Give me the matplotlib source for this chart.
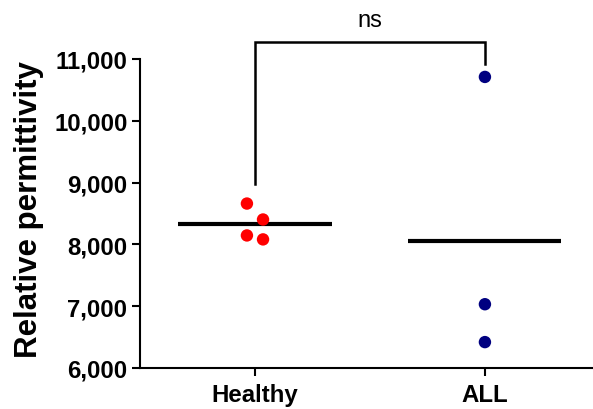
#!/usr/bin/env python3
"""Scatter of relative permittivity per group with mean lines and a ns bracket."""

import matplotlib

matplotlib.use("Agg")

import matplotlib.pyplot as plt
import numpy as np
from matplotlib.ticker import FuncFormatter

GROUPS = ["Healthy", "ALL"]
HEALTHY = [8661, 8403, 8145, 8081]
ALL_VALUES = [10710, 7032, 6419]
HEALTHY_OFFSETS = [-0.035, 0.035, -0.035, 0.035]
ALL_OFFSETS = [0.0, 0.0, 0.0]
Y_TICKS = [6000, 7000, 8000, 9000, 10000, 11000]
SIG_LABEL = "ns"

COLORS = {
    "healthy": "#ff0000",
    "all": "#000080",
    "ink": "#000000",
}

plt.rcParams["font.family"] = ["Liberation Sans", "DejaVu Sans"]

fig = plt.figure(figsize=(5.93, 4.10), dpi=100)
ax = fig.add_axes([140 / 593, 41 / 410, 453 / 593, 309 / 410])

series = [
    (0, HEALTHY, HEALTHY_OFFSETS, COLORS["healthy"]),
    (1, ALL_VALUES, ALL_OFFSETS, COLORS["all"]),
]
for pos, values, offsets, color in series:
    xs = pos + np.asarray(offsets)
    ax.scatter(xs, values, s=80, color=color, edgecolors="none", zorder=3, clip_on=False)
    mean = float(np.mean(values))
    ax.hlines(mean, pos - 0.333, pos + 0.333, color=COLORS["ink"], lw=3.0, zorder=2)

ax.set_xlim(-0.5, 1.47)
ax.set_ylim(6000, 11000)
ax.set_yticks(Y_TICKS)
ax.yaxis.set_major_formatter(FuncFormatter(lambda v, _: f"{int(v):,}"))
ax.set_xticks(range(len(GROUPS)))
ax.set_xticklabels(GROUPS)

for side in ("top", "right"):
    ax.spines[side].set_visible(False)
for side in ("left", "bottom"):
    ax.spines[side].set_linewidth(1.5)

ax.tick_params(axis="both", width=1.5, length=6, labelsize=17.3, color=COLORS["ink"])
ax.tick_params(axis="x", pad=5)
ax.tick_params(axis="y", pad=3)
for label in ax.get_xticklabels() + ax.get_yticklabels():
    label.set_fontweight("bold")

fig.text(29 / 593, 0.488, "Relative permittivity", rotation=90, ha="center", va="center",
         fontsize=22.5, fontweight="bold")

# significance bracket between the two groups
bracket_top = 11275
left_end = 8977
right_end = 10920
ax.plot([0, 0, 1, 1], [left_end, bracket_top, bracket_top, right_end],
        color=COLORS["ink"], lw=1.8, clip_on=False, solid_joinstyle="miter")
ax.text(0.5, bracket_top + 260, SIG_LABEL, ha="center", va="baseline", fontsize=17)

fig.savefig("out.png", dpi=100)
